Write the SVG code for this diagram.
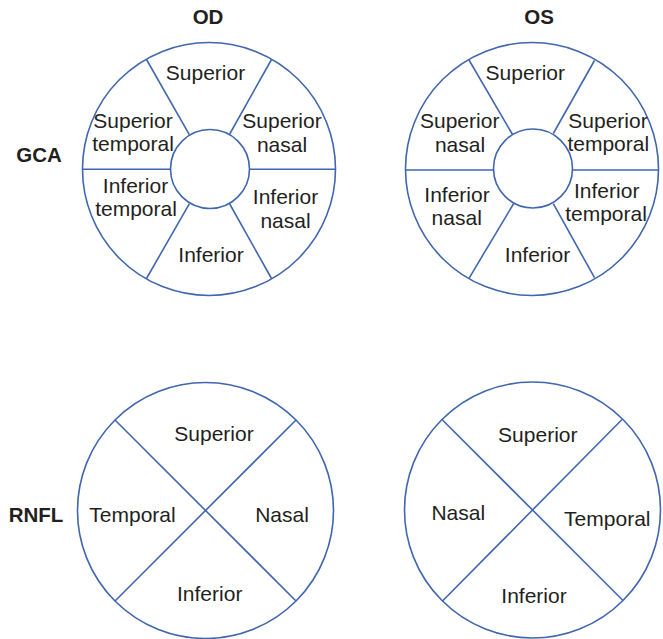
<svg xmlns="http://www.w3.org/2000/svg" width="663" height="639" viewBox="0 0 663 639">
<style>
.ln{fill:none;stroke:#4066b0;stroke-width:1.6}
.t{font-family:"Liberation Sans",Arial,sans-serif;font-size:21px;fill:#231f20;text-anchor:middle}
.h{font-family:"Liberation Sans",Arial,sans-serif;font-size:20.5px;font-weight:bold;fill:#231f20;text-anchor:middle}
</style>
<rect width="663" height="639" fill="#ffffff"/>
<g id="labels">
<text class="h" x="208" y="23.5">OD</text>
<text class="h" x="539" y="23.5">OS</text>
<text class="h" x="39" y="161.7">GCA</text>
<text class="h" x="36" y="521.7">RNFL</text>
</g>
<g id="gca-od">
<circle class="ln" cx="209" cy="169" r="126.5"/>
<circle class="ln" cx="210" cy="169" r="39.5"/>
<text class="t" x="205.5" y="79.5">Superior</text>
<text class="t" x="133" y="128.3">Superior</text>
<text class="t" x="133" y="151">temporal</text>
<text class="t" x="282" y="128.3">Superior</text>
<text class="t" x="282" y="151.7">nasal</text>
<text class="t" x="135.5" y="193.3">Inferior</text>
<text class="t" x="136" y="215.5">temporal</text>
<text class="t" x="285.5" y="204">Inferior</text>
<text class="t" x="285.5" y="228.3">nasal</text>
<text class="t" x="211" y="261.7">Inferior</text>
</g>
<g id="gca-os">
<circle class="ln" cx="532" cy="169" r="126.5"/>
<circle class="ln" cx="533" cy="168.5" r="39.5"/>
<text class="t" x="525.3" y="79.5">Superior</text>
<text class="t" x="459.7" y="128.3">Superior</text>
<text class="t" x="460" y="151.7">nasal</text>
<text class="t" x="608" y="128.3">Superior</text>
<text class="t" x="608.3" y="150.5">temporal</text>
<text class="t" x="457" y="201.7">Inferior</text>
<text class="t" x="456.7" y="225">nasal</text>
<text class="t" x="606.7" y="198.3">Inferior</text>
<text class="t" x="606" y="220.7">temporal</text>
<text class="t" x="537.5" y="261.7">Inferior</text>
</g>
<g id="rnfl-od">
<circle class="ln" cx="205.5" cy="510.5" r="128"/>
<text class="t" x="214" y="440.7">Superior</text>
<text class="t" x="132.5" y="521.7">Temporal</text>
<text class="t" x="282" y="521.7">Nasal</text>
<text class="t" x="209.7" y="600.7">Inferior</text>
</g>
<g id="rnfl-os">
<circle class="ln" cx="532.5" cy="510" r="128"/>
<text class="t" x="537.8" y="441.7">Superior</text>
<text class="t" x="458.3" y="520">Nasal</text>
<text class="t" x="607.3" y="526">Temporal</text>
<text class="t" x="534" y="602.7">Inferior</text>
</g>
<g id="connectors">
<line class="ln" x1="82.5" y1="169.3" x2="170.5" y2="169.3"/>
<line class="ln" x1="249.5" y1="169.3" x2="335.5" y2="169.3"/>
<line class="ln" x1="146.5" y1="59.5" x2="189.3" y2="134.6"/>
<line class="ln" x1="271.5" y1="59.5" x2="229.7" y2="134"/>
<line class="ln" x1="146.5" y1="278.5" x2="189.3" y2="203.8"/>
<line class="ln" x1="271.5" y1="278.5" x2="229.7" y2="204"/>
<line class="ln" x1="405.5" y1="170" x2="493.5" y2="170"/>
<line class="ln" x1="572.5" y1="170" x2="658.5" y2="170"/>
<line class="ln" x1="469" y1="60" x2="512.5" y2="134.5"/>
<line class="ln" x1="594.5" y1="60.5" x2="553.3" y2="133.5"/>
<line class="ln" x1="469" y1="278.3" x2="514" y2="203"/>
<line class="ln" x1="594.5" y1="277.7" x2="553.3" y2="203.7"/>
<line class="ln" x1="115" y1="420" x2="296" y2="601"/>
<line class="ln" x1="296" y1="420" x2="115" y2="601"/>
<line class="ln" x1="442" y1="419.5" x2="623" y2="600.5"/>
<line class="ln" x1="622" y1="419.5" x2="442.5" y2="601"/>
</g>
</svg>
